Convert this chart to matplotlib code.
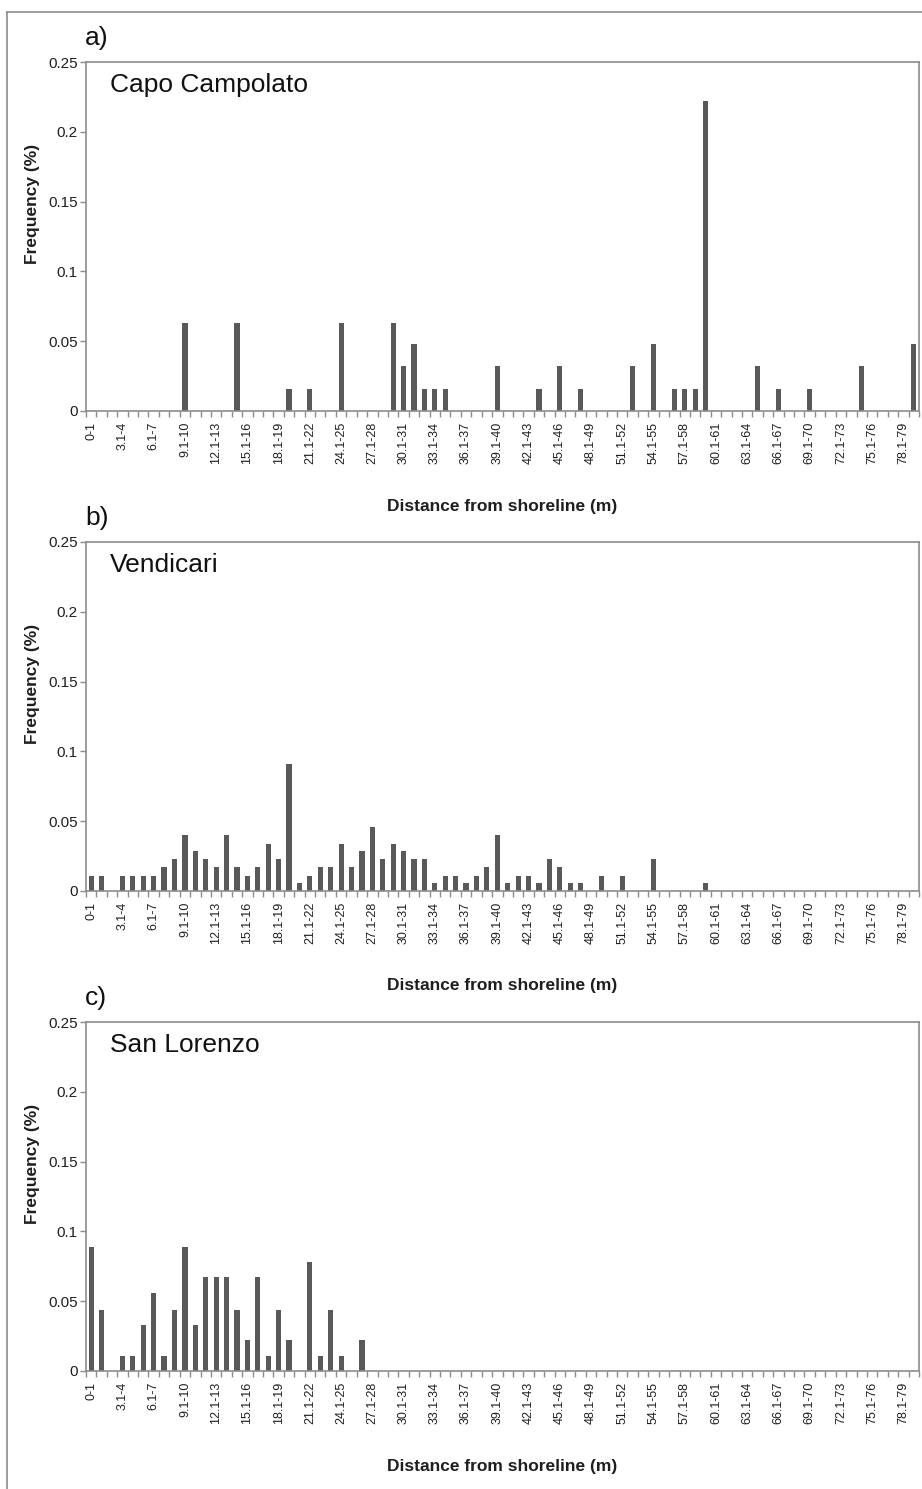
import matplotlib
matplotlib.use("Agg")
import matplotlib.pyplot as plt
from matplotlib.lines import Line2D

# distance classes (m)
categories = [
    "0-1", "1.1-2", "2.1-3", "3.1-4", "4.1-5", "5.1-6", "6.1-7", "7.1-8", "8.1-9", "9.1-10",
    "10.1-11", "11.1-12", "12.1-13", "13.1-14", "14.1-15", "15.1-16", "16.1-17", "17.1-18", "18.1-19", "19.1-20",
    "20.1-21", "21.1-22", "22.1-23", "23.1-24", "24.1-25", "25.1-26", "26.1-27", "27.1-28", "28.1-29", "29.1-30",
    "30.1-31", "31.1-32", "32.1-33", "33.1-34", "34.1-35", "35.1-36", "36.1-37", "37.1-38", "38.1-39", "39.1-40",
    "40.1-41", "41.1-42", "42.1-43", "43.1-44", "44.1-45", "45.1-46", "46.1-47", "47.1-48", "48.1-49", "49.1-50",
    "50.1-51", "51.1-52", "52.1-53", "53.1-54", "54.1-55", "55.1-56", "56.1-57", "57.1-58", "58.1-59", "59.1-60",
    "60.1-61", "61.1-62", "62.1-63", "63.1-64", "64.1-65", "65.1-66", "66.1-67", "67.1-68", "68.1-69", "69.1-70",
    "70.1-71", "71.1-72", "72.1-73", "73.1-74", "74.1-75", "75.1-76", "76.1-77", "77.1-78", "78.1-79", "79.1-80",
]

capo_campolato = [
    0, 0, 0, 0, 0, 0, 0, 0, 0, 0.063,
    0, 0, 0, 0, 0.063, 0, 0, 0, 0, 0.016,
    0, 0.016, 0, 0, 0.063, 0, 0, 0, 0, 0.063,
    0.032, 0.048, 0.016, 0.016, 0.016, 0, 0, 0, 0, 0.032,
    0, 0, 0, 0.016, 0, 0.032, 0, 0.016, 0, 0,
    0, 0, 0.032, 0, 0.048, 0, 0.016, 0.016, 0.016, 0.222,
    0, 0, 0, 0, 0.032, 0, 0.016, 0, 0, 0.016,
    0, 0, 0, 0, 0.032, 0, 0, 0, 0, 0.048,
]

vendicari = [
    0.011, 0.011, 0, 0.011, 0.011, 0.011, 0.011, 0.017, 0.023, 0.040,
    0.029, 0.023, 0.017, 0.040, 0.017, 0.011, 0.017, 0.034, 0.023, 0.091,
    0.006, 0.011, 0.017, 0.017, 0.034, 0.017, 0.029, 0.046, 0.023, 0.034,
    0.029, 0.023, 0.023, 0.006, 0.011, 0.011, 0.006, 0.011, 0.017, 0.040,
    0.006, 0.011, 0.011, 0.006, 0.023, 0.017, 0.006, 0.006, 0, 0.011,
    0, 0.011, 0, 0, 0.023, 0, 0, 0, 0, 0.006,
    0, 0, 0, 0, 0, 0, 0, 0, 0, 0,
    0, 0, 0, 0, 0, 0, 0, 0, 0, 0,
]

san_lorenzo = [
    0.089, 0.044, 0, 0.011, 0.011, 0.033, 0.056, 0.011, 0.044, 0.089,
    0.033, 0.067, 0.067, 0.067, 0.044, 0.022, 0.067, 0.011, 0.044, 0.022,
    0, 0.078, 0.011, 0.044, 0.011, 0, 0.022, 0, 0, 0,
    0, 0, 0, 0, 0, 0, 0, 0, 0, 0,
    0, 0, 0, 0, 0, 0, 0, 0, 0, 0,
    0, 0, 0, 0, 0, 0, 0, 0, 0, 0,
    0, 0, 0, 0, 0, 0, 0, 0, 0, 0,
    0, 0, 0, 0, 0, 0, 0, 0, 0, 0,
]

sites = ["Capo Campolato", "Vendicari", "San Lorenzo"]
panel_letters = ["a)", "b)", "c)"]
yticks = [0, 0.05, 0.1, 0.15, 0.2, 0.25]
ytick_labels = ["0", "0.05", "0.1", "0.15", "0.2", "0.25"]

W, H = 922, 1489
fig = plt.figure(figsize=(W / 100, H / 100), dpi=100)
fig.patch.set_facecolor("white")

arial = ["Liberation Sans", "DejaVu Sans"]
frame_col = "#8c8c8c"
bar_col = "#595959"
text_col = "#1e1e1e"

# outer frame of the figure (left and top edges visible)
fig.add_artist(Line2D([7 / W, 7 / W], [0, 1 - 12 / H], transform=fig.transFigure,
                      color=frame_col, lw=1.2))
fig.add_artist(Line2D([7 / W, 1], [1 - 12 / H, 1 - 12 / H], transform=fig.transFigure,
                      color=frame_col, lw=1.2))

tops = [62, 542, 1022]
ax_left, ax_right = 86, 919
ax_h = 349
x = list(range(len(categories)))

for top, letter, site, vals in zip(tops, panel_letters, sites,
                                   [capo_campolato, vendicari, san_lorenzo]):
    ax = fig.add_axes([ax_left / W, 1 - (top + ax_h) / H, (ax_right - ax_left) / W, ax_h / H])
    ax.bar(x, vals, width=0.5, color=bar_col, edgecolor="none")
    ax.set_xlim(-0.5, len(categories) - 0.5)
    ax.set_ylim(0, 0.25)

    for sp in ax.spines.values():
        sp.set_color(frame_col)
        sp.set_linewidth(1.2)

    ax.set_yticks(yticks)
    ax.set_yticklabels(ytick_labels, family=arial, fontsize=11, color=text_col)
    ax.tick_params(axis="y", length=4, width=1, color=frame_col, pad=2)

    ax.set_xticks(x[::3])
    ax.set_xticklabels(categories[::3], rotation=90, family=arial, fontsize=9,
                       color=text_col, va="top")
    ax.set_xticks([i - 0.5 for i in range(len(categories) + 1)], minor=True)
    ax.tick_params(axis="x", which="major", length=0, pad=8)
    ax.tick_params(axis="x", which="minor", length=4, width=1, color=frame_col)

    ax.text(-53 / 833, (411 - 204) / ax_h, "Frequency (%)", transform=ax.transAxes,
            rotation=90, ha="center", va="center", family=arial, fontsize=12.5,
            fontweight="bold", color=text_col)
    ax.text(0.5, -95 / ax_h, "Distance from shoreline (m)", transform=ax.transAxes,
            ha="center", va="center", family=arial, fontsize=12.5, fontweight="bold",
            color=text_col)
    ax.text(-1 / 833, 1 + 17 / ax_h, letter, transform=ax.transAxes, ha="left",
            va="baseline", family=arial, fontsize=19, color="#111111")
    ax.text(24 / 833, 1 - 30 / ax_h, site, transform=ax.transAxes, ha="left",
            va="baseline", family=arial, fontsize=19, color="#111111")

fig.savefig("out.png", dpi=100, facecolor="white")
